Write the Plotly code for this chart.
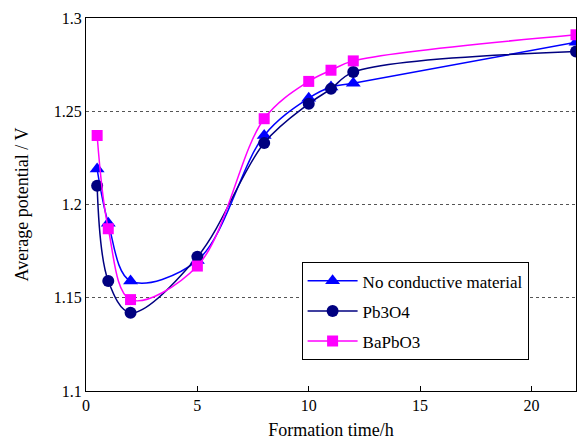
import plotly.graph_objects as go

# Formation time (h) and average potential (V) for each additive
time_h = [0.5, 1, 2, 5, 8, 10, 11, 12, 22]
no_conductive = [1.219, 1.190, 1.159, 1.170, 1.237, 1.257, 1.263, 1.265, 1.287]
pb3o4 = [1.210, 1.159, 1.142, 1.172, 1.233, 1.254, 1.262, 1.271, 1.282]
bapbo3 = [1.237, 1.187, 1.149, 1.167, 1.246, 1.266, 1.272, 1.277, 1.291]

series = [
    ("No conductive material", no_conductive, "#0000ff", "triangle-up", 13),
    ("Pb3O4", pb3o4, "#000080", "circle", 12),
    ("BaPbO3", bapbo3, "#ff00ff", "square", 11),
]

FONT = "Liberation Serif, Times New Roman, serif"

fig = go.Figure()
for i, (name, vals, color, symbol, size) in enumerate(series):
    fig.add_trace(go.Scatter(
        x=time_h, y=vals, name=name, mode="lines+markers",
        line=dict(color=color, width=1.5, shape="spline", smoothing=1.0),
        marker=dict(symbol=symbol, size=size, color=color),
        legendgroup=f"g{i}",
    ))

fig.update_layout(
    width=581, height=441,
    margin=dict(l=86, r=4, t=18, b=48),
    paper_bgcolor="white", plot_bgcolor="white",
    font=dict(family=FONT, size=16, color="black"),
    showlegend=True,
    legend=dict(
        x=0.44, y=0.345, xanchor="left", yanchor="top",
        bordercolor="black", borderwidth=1, bgcolor="white",
        font=dict(family=FONT, size=17, color="black"),
        tracegroupgap=5, itemwidth=50,
    ),
)
fig.update_xaxes(
    range=[0, 22], tickvals=[0, 5, 10, 15, 20],
    ticks="inside", ticklen=5, tickcolor="black",
    showline=True, linecolor="black", linewidth=1.2, mirror=True,
    showgrid=False, zeroline=False,
    title=dict(text="Formation time/h", font=dict(family=FONT, size=18), standoff=10),
    tickfont=dict(family=FONT, size=16),
)
fig.update_yaxes(
    range=[1.1, 1.3], tickvals=[1.1, 1.15, 1.2, 1.25, 1.3],
    ticktext=["1.1", "1.15", "1.2", "1.25", "1.3"],
    ticks="", showline=True, linecolor="black", linewidth=1.2, mirror=True,
    showgrid=True, gridcolor="#555555", gridwidth=1, griddash="dot",
    zeroline=False,
    title=dict(text="Average potential / V", font=dict(family=FONT, size=18), standoff=20),
    tickfont=dict(family=FONT, size=16),
)

fig.write_html("out.html")
